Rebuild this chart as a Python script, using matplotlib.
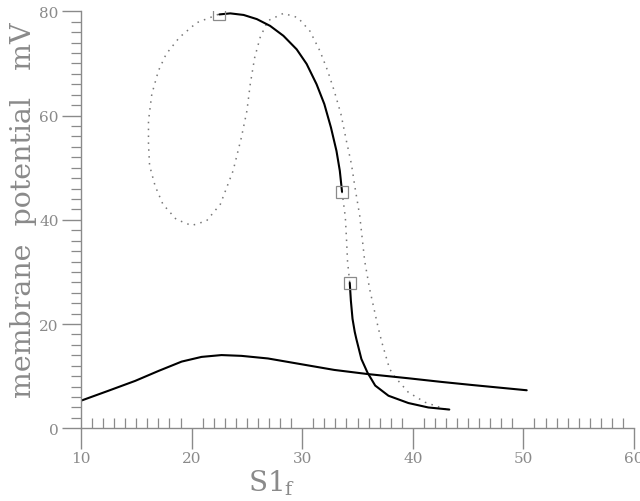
import matplotlib
matplotlib.use('Agg')
import matplotlib.pyplot as plt

# lower stable branch
low_x = [10.0, 12.47, 14.9, 17.0, 19.1, 20.9, 22.7, 24.5, 26.9, 29.9, 32.9,
         35.95, 39.6, 42.6, 45.4, 50.3]
low_y = [5.3, 7.2, 9.1, 11.0, 12.8, 13.7, 14.05, 13.9, 13.4, 12.3, 11.2,
         10.4, 9.6, 8.9, 8.3, 7.3]

# upper stable branch (two pieces)
up1_x = [22.5, 23.5, 24.7, 25.9, 27.1, 28.3, 29.5, 30.4, 31.3, 32.0, 32.6,
         33.1, 33.4, 33.6]
up1_y = [79.4, 79.6, 79.3, 78.5, 77.2, 75.3, 72.7, 69.9, 66.0, 62.2, 57.7,
         53.2, 49.4, 45.4]
up2_x = [34.3, 34.4, 34.55, 34.75, 34.9, 35.35, 35.9, 36.6, 37.8, 39.6, 41.4, 43.3]
up2_y = [27.9, 24.5, 21.0, 18.5, 17.1, 13.3, 10.7, 8.2, 6.25, 4.85, 4.0, 3.6]

# unstable branch (dotted)
uns_x = [22.4, 20.45, 18.9, 17.7, 17.0, 16.4, 16.1, 16.1, 16.2, 16.7, 17.4, 18.6,
         20.0, 21.35, 22.6, 23.75, 24.5, 25.0, 25.3, 25.7, 26.2, 26.9, 28.3,
         29.6, 30.7, 31.6, 32.3, 32.9, 33.5, 34.0, 34.45, 34.75, 35.2, 35.65,
         36.1, 36.85, 37.2, 37.9, 38.4, 39.6, 41.1, 42.9, 43.3]
uns_y = [79.4, 77.8, 75.0, 71.8, 68.6, 64.1, 59.0, 54.5, 50.4, 46.5, 43.0, 40.1,
         38.9, 39.8, 43.0, 49.4, 55.8, 60.9, 66.0, 71.1, 75.0, 78.2, 79.6,
         78.8, 76.2, 72.4, 68.6, 64.7, 60.3, 55.1, 50.7, 46.5, 40.8, 32.1,
         26.7, 19.5, 16.5, 11.4, 9.8, 6.9, 5.0, 3.7, 3.6]
gap_x = [33.6, 33.9, 34.0, 34.1, 34.3]
gap_y = [45.4, 40.5, 36.5, 32.0, 27.9]

# bifurcation points
bif_x = [22.5, 33.6, 34.3]
bif_y = [79.4, 45.4, 27.9]

grey = '#8a8a8a'
plt.rcParams['mathtext.fontset'] = 'dejavuserif'

fig = plt.figure(figsize=(6.4, 5.02), dpi=100)
ax = fig.add_axes([0.1266, 0.1448, 0.864, 0.8307])

ax.plot(uns_x, uns_y, color='#777777', lw=1.1, linestyle=(0, (1, 3.5)))
ax.plot(gap_x, gap_y, color='#777777', lw=1.1, linestyle=(0, (1, 3.5)))
for xs, ys in ((low_x, low_y), (up1_x, up1_y), (up2_x, up2_y)):
    ax.plot(xs, ys, color='black', lw=1.5, solid_joinstyle='round',
            solid_capstyle='round')
ax.plot(bif_x, bif_y, linestyle='none', marker='s', markersize=9,
        markerfacecolor='none', markeredgecolor=grey, markeredgewidth=0.9)

ax.set_xlim(10, 60)
ax.set_ylim(0, 80)
ax.set_xticks([10, 20, 30, 40, 50, 60])
ax.set_xticks(range(10, 61), minor=True)
ax.set_yticks([0, 20, 40, 60, 80])
ax.set_yticks(range(0, 81, 2), minor=True)

for s in ('top', 'right'):
    ax.spines[s].set_visible(False)
for s in ('left', 'bottom'):
    ax.spines[s].set_color(grey)
    ax.spines[s].set_linewidth(1.0)

ax.tick_params(axis='x', which='major', direction='out', length=15, width=1.0,
               color=grey, labelcolor=grey, labelsize=11, pad=1)
ax.tick_params(axis='x', which='minor', direction='in', length=7, width=0.9, color=grey)
ax.tick_params(axis='y', which='major', direction='out', length=14, width=1.0,
               color=grey, labelcolor=grey, labelsize=11, pad=2)
ax.tick_params(axis='y', which='minor', direction='out', length=7, width=0.9, color=grey)
for lab in ax.get_xticklabels() + ax.get_yticklabels():
    lab.set_family('DejaVu Serif')

ax.set_ylabel('membrane  potential   mV', family='DejaVu Serif', fontsize=20.5,
              color=grey)
ax.yaxis.set_label_coords(-0.08, 0.525)
ax.set_xlabel(r'S1$_{\rm f}$', family='DejaVu Serif', fontsize=20, color=grey)
ax.xaxis.set_label_coords(0.345, -0.095)

fig.savefig('out.png', dpi=100)
